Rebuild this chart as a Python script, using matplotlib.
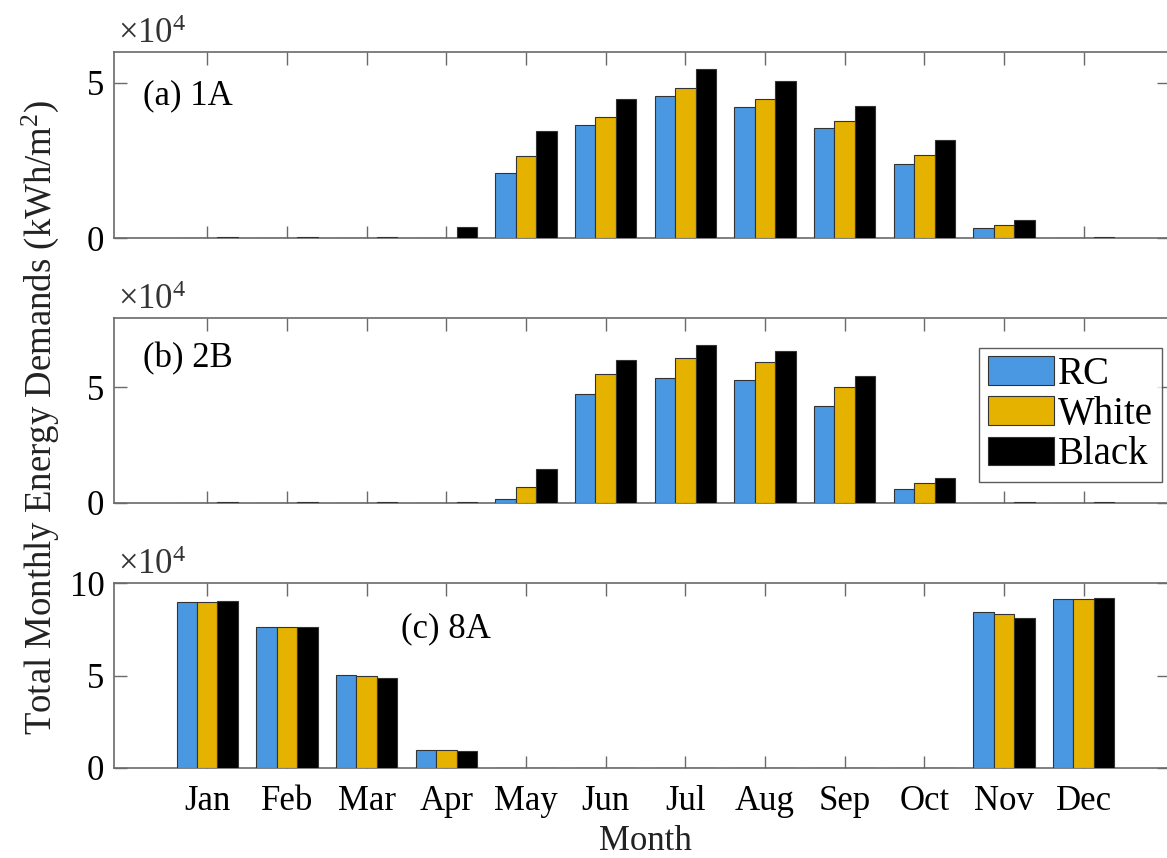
import matplotlib
matplotlib.use("Agg")
import matplotlib.pyplot as plt
import numpy as np
from matplotlib.patches import Patch

plt.rcParams["font.family"] = ["Liberation Serif", "DejaVu Serif"]
plt.rcParams["mathtext.fontset"] = "custom"
plt.rcParams["mathtext.rm"] = "Liberation Serif"

months = ["Jan", "Feb", "Mar", "Apr", "May", "Jun",
          "Jul", "Aug", "Sep", "Oct", "Nov", "Dec"]
series = ["RC", "White", "Black"]
colors = ["#4a98e2", "#e5b200", "#000000"]

# monthly totals, kWh/m^2
rc_1a = [0, 0, 0, 0, 21000, 36400, 45800, 42200, 35400, 23900, 3200, 0]
white_1a = [0, 0, 0, 0, 26300, 38900, 48300, 44700, 37600, 26700, 4300, 0]
black_1a = [200, 200, 200, 3400, 34400, 44700, 54600, 50700, 42500, 31500, 5700, 200]

rc_2b = [0, 0, 0, 0, 1700, 47200, 54100, 53300, 42000, 6200, 0, 0]
white_2b = [0, 0, 0, 0, 7000, 55700, 62600, 60900, 50100, 8600, 0, 0]
black_2b = [200, 200, 200, 200, 14500, 61700, 68100, 65800, 54800, 10600, 200, 200]

rc_8a = [90000, 76200, 50400, 9900, 0, 0, 0, 0, 0, 0, 84200, 91200]
white_8a = [90000, 76200, 49800, 9700, 0, 0, 0, 0, 0, 0, 83300, 91200]
black_8a = [90300, 76000, 48900, 9100, 200, 200, 200, 200, 200, 200, 81200, 91700]

panels = [
    ("(a) 1A", (rc_1a, white_1a, black_1a), 6, [0, 5], (0.0275, 0.765)),
    ("(b) 2B", (rc_2b, white_2b, black_2b), 8, [0, 5], (0.0275, 0.78)),
    ("(c) 8A", (rc_8a, white_8a, black_8a), 10, [0, 5, 10], (0.272, 0.755)),
]
positions = [
    [0.0977, 0.7226, 0.9040, 0.2168],
    [0.0977, 0.4138, 0.9040, 0.2156],
    [0.0977, 0.1049, 0.9040, 0.2156],
]

fig = plt.figure(figsize=(11.67, 8.58), dpi=100)
x = np.arange(1, 13)
w = 0.257
scale = 1e4
spine_col = "#6a6a6a"

axes = []
for (label, vals, ytop, yt, lpos), pos in zip(panels, positions):
    ax = fig.add_axes(pos)
    for i, (v, c) in enumerate(zip(vals, colors)):
        # bars sit above the spines so near-zero months still show as a dash
        ax.bar(x + (i - 1) * w, np.array(v) / scale, width=w, color=c,
               edgecolor="#333333", linewidth=0.8, zorder=3)
    ax.set_xlim(-0.17, 13.07)
    ax.set_ylim(0, ytop)
    ax.set_xticks(x)
    ax.set_yticks(yt)
    ax.tick_params(direction="in", length=9, width=1.0, color=spine_col,
                   top=True, right=True, labelsize=25, pad=7)
    ax.tick_params(axis="x", pad=12)
    for s in ax.spines.values():
        s.set_color(spine_col)
        s.set_linewidth(1.2)
    ax.spines["right"].set_visible(False)
    ax.text(0.004, 1.005, r"$\mathregular{\times10^{4}}$", transform=ax.transAxes,
            fontsize=25, color="#333333", ha="left", va="bottom")
    ax.text(lpos[0], lpos[1], label, transform=ax.transAxes, fontsize=25,
            ha="left", va="center")
    axes.append(ax)

axes[0].set_xticklabels([])
axes[1].set_xticklabels([])
axes[2].set_xticklabels(months)

handles = [Patch(facecolor=c, edgecolor="#333333", linewidth=0.8) for c in colors]
leg = axes[1].legend(handles, series, loc="upper right", bbox_to_anchor=(0.993, 0.84),
                     fontsize=28, frameon=True, fancybox=False, edgecolor="#333333",
                     handlelength=1.7, handleheight=0.75, handletextpad=0.1,
                     labelspacing=0.08, borderpad=0.22, borderaxespad=0.0)
leg.get_frame().set_linewidth(1.0)
leg.set_zorder(5)

fig.text(40 / 1167, 1 - 418 / 858,
         r"Total Monthly Energy Demands (kWh/m$\mathregular{^2}$)",
         rotation=90, fontsize=26.5, ha="center", va="center", color="#222222")
fig.text(645 / 1167, 1 - 842 / 858, "Month", fontsize=25,
         ha="center", va="center", color="#222222")

fig.savefig("out.png", dpi=100)
